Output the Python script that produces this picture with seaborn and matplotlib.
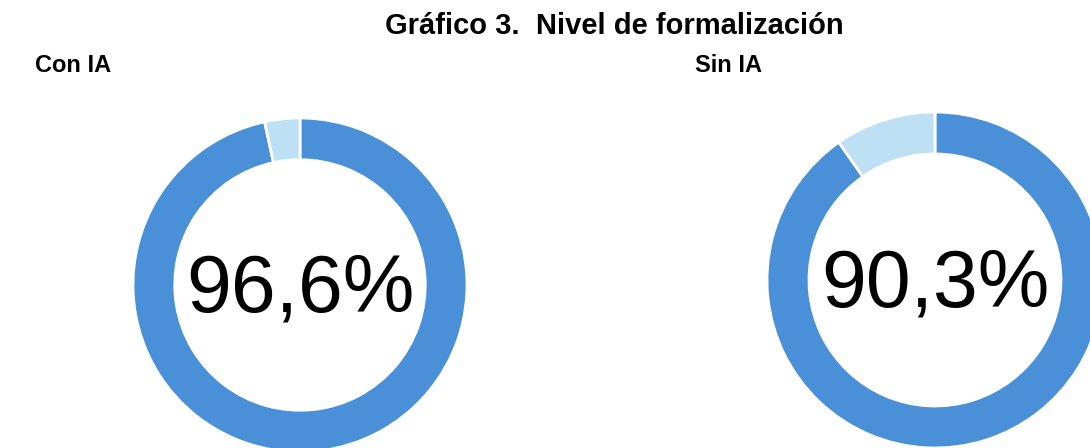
import matplotlib
matplotlib.use("Agg")
import matplotlib.pyplot as plt
import seaborn as sns

sns.set_theme(style="white")
plt.rcParams["font.family"] = ["Liberation Sans", "DejaVu Sans"]

groups = ["Con IA", "Sin IA"]
formal = [96.6, 90.3]
informal = [3.4, 9.7]
labels = ["96,6%", "90,3%"]
colors = ["#4a90d8", "#bee0f5"]

fig = plt.figure(figsize=(10.9, 4.48), dpi=100)
W, H = 1090, 448

# donut centres / radii in pixels (from top-left)
donuts = [(300, 285, 167), (935, 280, 168)]

for i, (cx, cy, r) in enumerate(donuts):
    ax = fig.add_axes([(cx - r) / W, (H - cy - r) / H, 2 * r / W, 2 * r / H])
    ax.pie([formal[i], informal[i]], colors=colors, startangle=90, counterclock=False,
           radius=1, wedgeprops=dict(width=0.25, edgecolor="white", linewidth=2))
    ax.set_xlim(-1, 1)
    ax.set_ylim(-1, 1)
    ax.set_aspect("equal")
    ax.axis("off")
    ax.text(0, -0.035, labels[i], ha="center", va="center", fontsize=58, color="black")

fig.text(614 / W, 1 - 26 / H, "Gráfico 3.  Nivel de formalización", ha="center", va="center",
         fontsize=21, fontweight="bold", color="black")
fig.text(35 / W, 1 - 66 / H, groups[0], ha="left", va="center", fontsize=17, fontweight="bold", color="black")
fig.text(695 / W, 1 - 66 / H, groups[1], ha="left", va="center", fontsize=17, fontweight="bold", color="black")

fig.savefig("out.png", dpi=100)
